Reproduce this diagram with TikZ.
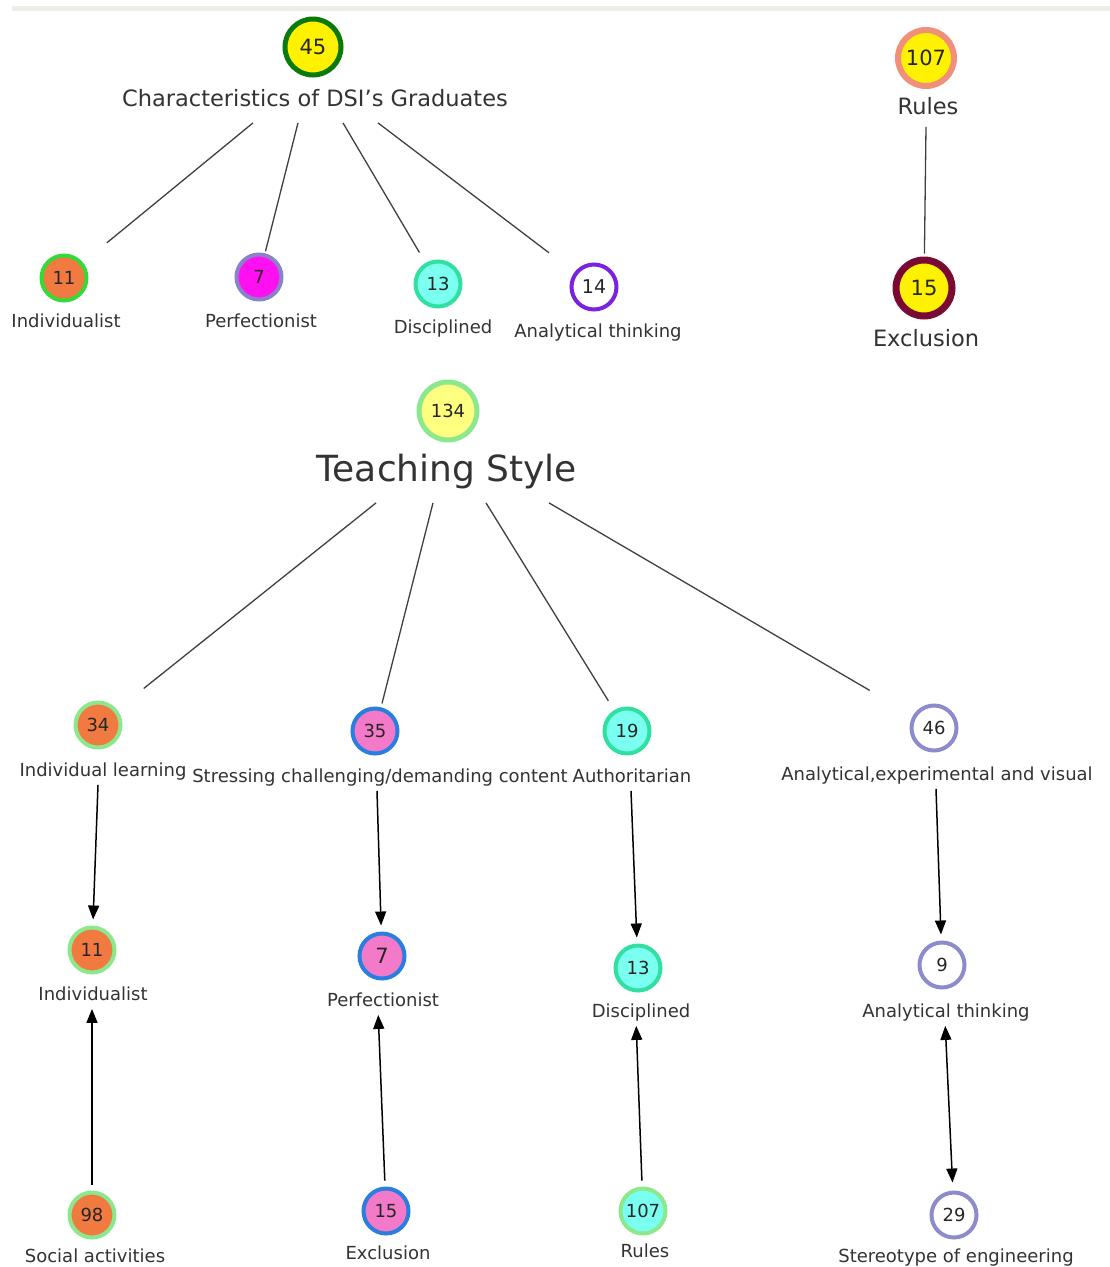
\documentclass[tikz,border=0pt]{standalone}
\usepackage{fontspec}
\setmainfont{DejaVu Sans}
\usetikzlibrary{arrows.meta}

\definecolor{bandgray}{HTML}{EEEDE6}
\definecolor{ringdark}{HTML}{0A7A0A}
\definecolor{ringsalmon}{HTML}{F0907A}
\definecolor{ringmaroon}{HTML}{7A0A35}
\definecolor{ringgreen}{HTML}{38D838}
\definecolor{ringlilac}{HTML}{8A82C8}
\definecolor{ringteal}{HTML}{30E0A0}
\definecolor{ringpurple}{HTML}{7A22E0}
\definecolor{ringlight}{HTML}{8CE88C}
\definecolor{ringblue}{HTML}{2A7EE0}
\definecolor{ringlav}{HTML}{8C8CCC}
\definecolor{fillorange}{HTML}{F07A40}
\definecolor{fillmagenta}{HTML}{FF10F0}
\definecolor{fillcyan}{HTML}{7AFFF0}
\definecolor{fillpink}{HTML}{F27AC8}
\definecolor{fillpale}{HTML}{FFFF80}

\begin{document}
\begin{tikzpicture}[x=1pt, y=-1pt,
  bubble/.style={circle, inner sep=0pt, minimum size=45pt, line width=4pt,
    text=black!85, font=\fontsize{18}{18}\selectfont},
  bigbubble/.style={bubble, minimum size=56pt, line width=6pt,
    font=\fontsize{21}{21}\selectfont},
  tag/.style={inner sep=0pt, text=black!80, text height=0.72em, text depth=0.22em,
    font=\fontsize{18}{18}\selectfont},
  bigtag/.style={tag, font=\fontsize{22.5}{22.5}\selectfont},
  tie/.style={draw=black!75, line width=1.3pt},
  flow/.style={draw=black, line width=1.5pt, -{Triangle[length=14pt,width=11pt]}},
  twoway/.style={flow, {Triangle[length=14pt,width=11pt]}-{Triangle[length=14pt,width=11pt]}}
]
	\fill[white] (0,0) rectangle (1110,1267);
	\useasboundingbox (0,0) rectangle (1110,1267);
	\fill[bandgray] (12,6) rectangle (1110,11);

	% characteristics
	\node[bigbubble, draw=ringdark, line width=5pt, fill=yellow] (n45) at (313,47) {45};
	\node[bigtag] (l45) at (315,104) {Characteristics of DSI's Graduates};

	\node[bubble, draw=ringgreen, fill=fillorange] (n11a) at (64,278) {11};
	\node[tag] (l11a) at (66,325) {Individualist};
	\node[bubble, draw=ringlilac, fill=fillmagenta] (n7a) at (259,277) {7};
	\node[tag] (l7a) at (261,325) {Perfectionist};
	\node[bubble, draw=ringteal, fill=fillcyan] (n13a) at (438,284) {13};
	\node[tag] (l13a) at (443,331) {Disciplined};
	\node[bubble, draw=ringpurple, fill=white, font=\fontsize{19}{19}\selectfont] (n14a) at (594,287) {14};
	\node[tag] (l14a) at (598,335) {Analytical thinking};

	\draw[tie, shorten >=31pt] ([xshift=-62pt,yshift=-14pt]l45.south) -- (n11a);
	\draw[tie, shorten >=2pt] ([xshift=-17pt,yshift=-14pt]l45.south) -- (n7a);
	\draw[tie, shorten >=12pt] ([xshift=28pt,yshift=-14pt]l45.south) -- (n13a);
	\draw[tie, shorten >=32pt] ([xshift=63pt,yshift=-14pt]l45.south) -- (n14a);

	% rules
	\node[bigbubble, draw=ringsalmon, fill=yellow] (n107a) at (926,58) {107};
	\node[bigtag] (l107a) at (928,112) {Rules};
	\node[bigbubble, draw=ringmaroon, line width=7pt, fill=yellow] (n15a) at (924,288) {15};
	\node[bigtag] (l15a) at (926,344) {Exclusion};
	\draw[tie, shorten >=3pt] ([xshift=-2pt,yshift=-10pt]l107a.south) -- (n15a);

	% teaching style
	\node[bubble, draw=ringlight, fill=fillpale, minimum size=58pt, line width=5pt] (n134) at (448,411) {134};
	\node[tag, font=\fontsize{36}{36}\selectfont] (l134) at (447,479) {Teaching Style};

	\node[bubble, draw=ringlight, fill=fillorange] (n34) at (98,725) {34};
	\node[tag] (l34) at (103,774) {Individual learning};
	\node[bubble, draw=ringblue, fill=fillpink] (n35) at (375,731) {35};
	\node[tag] (l35) at (380,780) {Stressing challenging/demanding content};
	\node[bubble, draw=ringteal, fill=fillcyan] (n19) at (627,731) {19};
	\node[tag] (l19) at (632,780) {Authoritarian};
	\node[bubble, draw=ringlav, fill=white] (n46) at (934,728) {46};
	\node[tag] (l46) at (937,778) {Analytical,experimental and visual};

	\draw[tie, shorten >=34pt] ([xshift=-71pt,yshift=-19pt]l134.south) -- (n34);
	\draw[tie, shorten >=4pt] ([xshift=-14pt,yshift=-19pt]l134.south) -- (n35);
	\draw[tie, shorten >=11pt] ([xshift=39pt,yshift=-19pt]l134.south) -- (n19);
	\draw[tie, shorten >=50pt] ([xshift=102pt,yshift=-19pt]l134.south) -- (n46);

	% third row
	\node[bubble, draw=ringlight, fill=fillorange] (n11b) at (92,950) {11};
	\node[tag] (l11b) at (93,998) {Individualist};
	\node[bubble, draw=ringblue, fill=fillpink, font=\fontsize{21}{21}\selectfont] (n7b) at (382,956) {7};
	\node[tag] (l7b) at (383,1004) {Perfectionist};
	\node[bubble, draw=ringteal, fill=fillcyan] (n13b) at (638,968) {13};
	\node[tag] (l13b) at (641,1015) {Disciplined};
	\node[bubble, draw=ringlav, fill=white] (n9) at (942,965) {9};
	\node[tag] (l9) at (946,1015) {Analytical thinking};

	\draw[flow, shorten >=6pt] ([xshift=-5pt,yshift=-6pt]l34.south) -- (n11b);
	\draw[flow, shorten >=6pt] ([xshift=-3pt,yshift=-6pt]l35.south) -- (n7b);
	\draw[flow, shorten >=6pt] ([xshift=-1pt,yshift=-6pt]l19.south) -- (n13b);
	\draw[flow, shorten >=6pt] ([xshift=-1pt,yshift=-6pt]l46.south) -- (n9);

	% bottom row
	\node[bubble, draw=ringlight, fill=fillorange] (n98) at (92,1215) {98};
	\node[tag] (l98) at (95,1260) {Social activities};
	\node[bubble, draw=ringblue, fill=fillpink] (n15b) at (386,1211) {15};
	\node[tag] (l15b) at (388,1257) {Exclusion};
	\node[bubble, draw=ringlight, fill=fillcyan] (n107b) at (643,1211) {107};
	\node[tag] (l107b) at (645,1255) {Rules};
	\node[bubble, draw=ringlav, fill=white] (n29) at (954,1215) {29};
	\node[tag] (l29) at (956,1260) {Stereotype of engineering};

	\draw[flow, shorten <=6pt, shorten >=6pt] (n98) -- (l11b.south -| n98);
	\draw[flow, shorten <=6pt, shorten >=6pt] (n15b) -- ([xshift=-5pt]l7b.south);
	\draw[flow, shorten <=6pt, shorten >=6pt] (n107b) -- ([xshift=-5pt]l13b.south);
	\draw[twoway, shorten <=8pt, shorten >=6pt] (n29) -- ([xshift=-1pt]l9.south);
\end{tikzpicture}
\end{document}
